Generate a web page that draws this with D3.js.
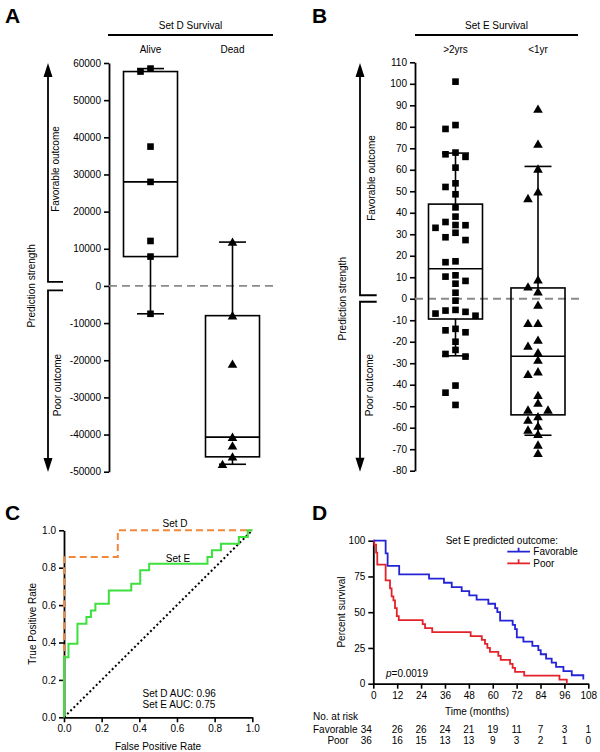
<!DOCTYPE html>
<html>
<head>
<meta charset="utf-8">
<script src="https://cdn.jsdelivr.net/npm/d3@7"></script>
<style>
  body { margin: 0; background: #fff; }
  svg { display: block; }
</style>
</head>
<body>
<script>
// ---------------- DATA ----------------
// Panel A: Set D survival, prediction strength
const setDGroups = ["Alive", "Dead"];
const setDAlive = [58500, 57700, 37500, 28000, 12100, 7900, -7500];
const setDDead = [11800, -8000, -21000, -40700, -43000, -46000, -48000];
const setDTicks = [-50000, -40000, -30000, -20000, -10000, 0, 10000, 20000, 30000, 40000, 50000, 60000];

// Panel B: Set E survival, prediction strength
const setEGroups = [">2yrs", "<1yr"];
const setEOver2 = [101, 80.8, 79, 68, 67.2, 66, 61, 53.7, 52, 48.6, 42.5, 38.2, 35.7, 34.3, 34.2, 33, 30.7, 28.6, 27.3,
  17.4, 17, 10.9, 10.3, 8.3, 7, 2.8, -0.9, -5.2, -5.5, -6.1, -6.9, -7.9, -14, -14.7, -15.6, -20, -23.8, -25.7, -26.9,
  -40.4, -43.7, -49.4];
const setEUnder1 = [88.3, 72, 60.4, 49.8, 46.7, 8.8, 5.6, 3.3, -2.9, -11.4, -11.4, -19.2, -22, -25, -28.5, -33.9, -35.1,
  -44.9, -48.5, -51.7, -51.7, -54.8, -56.4, -59.2, -61, -63, -68, -71.9];
const setETicks = [-80, -70, -60, -50, -40, -30, -20, -10, 0, 10, 20, 30, 40, 50, 60, 70, 80, 90, 100, 110];

// Panel C: ROC tick labels
const rocTicks = [0, 0.2, 0.4, 0.6, 0.8, 1.0];

// Panel D: Kaplan-Meier (months, percent survival)
const favTimes = [0, 6.2, 7.2, 13, 28, 35.5, 39.4, 44.4, 48.2, 51.9, 57.8, 61.2, 62.3, 63.7, 70.0, 71.2, 72.1, 75.4,
  79.9, 82.9, 84.1, 86.8, 89.6, 91.8, 95.5, 99.7, 105.5];
const favSurv = [100, 91.2, 82.4, 76.5, 73.5, 70.6, 67.6, 64.7, 61.8, 58.8, 55.9, 52.9, 50.0, 44.1, 41.2, 38.2, 32.4,
  29.4, 26.5, 23.5, 20.6, 17.6, 14.7, 11.8, 8.8, 5.9, 2.9];
const poorTimes = [0, 0.5, 1.4, 2.0, 6.2, 8.4, 9.2, 10.1, 10.9, 11.8, 12.8, 24.8, 26, 29.6, 48.9, 54.5, 56.1, 57.3,
  58.6, 62.8, 64.0, 68.7, 70.0, 71.2, 75.8, 93.5, 97.2];
const poorSurv = [100, 97.2, 91.7, 83.3, 72.2, 66.7, 61.1, 58.3, 52.8, 47.2, 44.4, 41.7, 38.9, 36.1, 33.3, 30.6, 27.8,
  25.0, 22.2, 19.4, 16.7, 13.9, 11.1, 8.3, 5.6, 2.8, 0];
const kmMonthTicks = [0, 12, 24, 36, 48, 60, 72, 84, 96, 108];
const kmSurvTicks = [0, 25, 50, 75, 100];
const riskFav = [34, 26, 26, 24, 21, 19, 11, 7, 3, 1];
const riskPoor = [36, 16, 15, 13, 13, 9, 3, 2, 1, 0];
const kmPValue = "0.0019";

// ---------------- SETUP ----------------
const FONT = "'Liberation Sans', Arial, Helvetica, sans-serif";
const svg = d3.select("body").append("svg")
  .attr("width", 600).attr("height", 752)
  .style("font-family", FONT);

const blue = "#2424d6", red = "#e4222a", green = "#3de03d", orange = "#f4883a";

function styleAxis(g) {
  g.selectAll(".domain").attr("stroke", "#000").attr("stroke-width", 1.8);
  g.selectAll(".tick line").attr("stroke", "#000").attr("stroke-width", 1.6);
  g.selectAll(".tick text").attr("font-size", 10).attr("font-family", FONT).attr("fill", "#000");
}

function panelLetter(t, x, y) {
  svg.append("text").attr("x", x).attr("y", y).attr("font-size", 21).attr("font-weight", "bold").text(t);
}

// GraphPad-style percentile ((n+1)p)
function pct(sorted, p) {
  const n = sorted.length;
  let pos = p * (n + 1);
  if (pos <= 1) return sorted[0];
  if (pos >= n) return sorted[n - 1];
  const lo = Math.floor(pos), f = pos - lo;
  return sorted[lo - 1] + f * (sorted[lo] - sorted[lo - 1]);
}

// dodge points horizontally
function dodge(values, y, minGap) {
  const order = [0, -1, 1, -2, 2, -3, 3];
  const placed = [];
  const sorted = values.map((v, i) => ({ v, i })).sort((a, b) => b.v - a.v);
  sorted.forEach(d => {
    const py = y(d.v);
    for (const s of order) {
      if (!placed.some(p => p.slot === s && Math.abs(p.py - py) < minGap)) {
        placed.push({ v: d.v, py, slot: s });
        break;
      }
    }
  });
  return placed;
}

function arrowPanel(x, yTop, yBracketTop, yBracketBot, yBot, bracketX) {
  const g = svg.append("g").attr("stroke", "#000").attr("stroke-width", 1.8).attr("fill", "none");
  g.append("path").attr("d", `M${bracketX},${yBracketTop}H${x}V${yTop + 12}`);
  g.append("path").attr("d", `M${bracketX},${yBracketBot}H${x}V${yBot - 12}`);
  svg.append("path").attr("d", `M${x},${yTop}L${x - 4.5},${yTop + 14}L${x + 4.5},${yTop + 14}Z`).attr("fill", "#000");
  svg.append("path").attr("d", `M${x},${yBot}L${x - 4.5},${yBot - 14}L${x + 4.5},${yBot - 14}Z`).attr("fill", "#000");
}

function vText(t, x, y) {
  svg.append("text").attr("transform", `translate(${x},${y}) rotate(-90)`)
    .attr("text-anchor", "middle").attr("dominant-baseline", "central").attr("font-size", 10).text(t);
}

function boxPanel(cfg) {
  const { groups, data, symbols, y, x, axisX, ticks, header, hx1, hx2, dashEnd } = cfg;
  // axis
  const ax = svg.append("g").attr("transform", `translate(${axisX},0)`)
    .call(d3.axisLeft(y).tickValues(ticks).tickFormat(d => String(d)).tickSize(5).tickSizeOuter(0));
  styleAxis(ax);
  // header
  svg.append("text").attr("x", (hx1 + hx2) / 2).attr("y", 25).attr("text-anchor", "middle")
    .attr("dominant-baseline", "central").attr("font-size", 10).text(header);
  svg.append("line").attr("x1", hx1).attr("x2", hx2).attr("y1", 35).attr("y2", 35)
    .attr("stroke", "#000").attr("stroke-width", 1.8);
  groups.forEach(gname => {
    svg.append("text").attr("x", x(gname)).attr("y", 49).attr("text-anchor", "middle")
      .attr("dominant-baseline", "central").attr("font-size", 10).text(gname);
  });
  // zero dashed line
  svg.append("line").attr("x1", axisX).attr("x2", dashEnd).attr("y1", y(0)).attr("y2", y(0))
    .attr("stroke", "#8a8a8a").attr("stroke-width", 1.8).attr("stroke-dasharray", "8,5");
  // boxes
  groups.forEach((gname, gi) => {
    const vals = data[gi].slice().sort((a, b) => a - b);
    const q1 = pct(vals, 0.25), med = pct(vals, 0.5), q3 = pct(vals, 0.75);
    const lo = pct(vals, 0.1), hi = pct(vals, 0.9);
    const cx = x(gname), bw = 54, cw = 27;
    const g = svg.append("g").attr("stroke", "#000").attr("stroke-width", 1.6).attr("fill", "none");
    g.append("line").attr("x1", cx).attr("x2", cx).attr("y1", y(q3)).attr("y2", y(hi));
    g.append("line").attr("x1", cx).attr("x2", cx).attr("y1", y(q1)).attr("y2", y(lo));
    g.append("line").attr("x1", cx - cw / 2).attr("x2", cx + cw / 2).attr("y1", y(hi)).attr("y2", y(hi));
    g.append("line").attr("x1", cx - cw / 2).attr("x2", cx + cw / 2).attr("y1", y(lo)).attr("y2", y(lo));
    g.append("rect").attr("x", cx - bw / 2).attr("width", bw).attr("y", y(q3)).attr("height", y(q1) - y(q3));
    g.append("line").attr("x1", cx - bw / 2).attr("x2", cx + bw / 2).attr("y1", y(med)).attr("y2", y(med));
    // points
    const pts = dodge(data[gi], y, 7.5);
    const sym = d3.symbol().type(symbols[gi]).size(symbols[gi] === d3.symbolSquare ? 44 : 40);
    svg.append("g").selectAll("path").data(pts).join("path")
      .attr("transform", d => `translate(${cx + d.slot * 10},${d.py + (symbols[gi] === d3.symbolTriangle ? 1 : 0)})`)
      .attr("d", sym).attr("fill", "#000");
  });
}

// ---------------- PANEL A ----------------
panelLetter("A", 5, 23);
const yA = d3.scaleLinear().domain([-50000, 60000]).range([471.7, 63]);
const xA = d3.scalePoint().domain(setDGroups).range([150.5, 232.5]);
boxPanel({
  groups: setDGroups, data: [setDAlive, setDDead], symbols: [d3.symbolSquare, d3.symbolTriangle],
  y: yA, x: xA, axisX: 109, ticks: setDTicks, header: "Set D Survival", hx1: 108, hx2: 273, dashEnd: 277
});
arrowPanel(48, 63, yA(0) - 4, yA(0) + 4.5, 472, 63);
vText("Favorable outcome", 55.5, 169);
vText("Poor outcome", 57, 385);
vText("Prediction strength", 31.5, yA(0));

// ---------------- PANEL B ----------------
panelLetter("B", 312, 23);
const yB = d3.scaleLinear().domain([-80, 110]).range([470.7, 62.3]);
const xB = d3.scalePoint().domain(setEGroups).range([455.5, 538]);
boxPanel({
  groups: setEGroups, data: [setEOver2, setEUnder1], symbols: [d3.symbolSquare, d3.symbolTriangle],
  y: yB, x: xB, axisX: 415, ticks: setETicks, header: "Set E Survival", hx1: 415, hx2: 578, dashEnd: 579
});
arrowPanel(360, 63, yB(0) - 3.5, yB(0) + 3, 471.7, 376.7);
vText("Favorable outcome", 371, 178);
vText("Poor outcome", 369, 385);
vText("Prediction strength", 342, yB(0));

// ---------------- PANEL C ----------------
panelLetter("C", 5, 520);
const xC = d3.scaleLinear().domain([0, 1]).range([64, 252.3]);
const yC = d3.scaleLinear().domain([0, 1]).range([717.3, 530.3]);
const axCy = svg.append("g").attr("transform", "translate(64,0)")
  .call(d3.axisLeft(yC).tickValues(rocTicks).tickFormat(d3.format(".1f")).tickSize(5).tickSizeOuter(0));
styleAxis(axCy);
const axCx = svg.append("g").attr("transform", "translate(0,717.3)")
  .call(d3.axisBottom(xC).tickValues(rocTicks).tickFormat(d3.format(".1f")).tickSize(5).tickSizeOuter(0));
styleAxis(axCx);

// ROC from the scores (lower score => poor outcome = positive)
function roc(neg, pos) {
  const all = neg.map(v => ({ v, p: false })).concat(pos.map(v => ({ v, p: true })))
    .sort((a, b) => a.v - b.v);
  let fp = 0, tp = 0;
  const pts = [[0, 0]];
  all.forEach(d => {
    if (d.p) tp++; else fp++;
    pts.push([fp / neg.length, tp / pos.length]);
  });
  let auc = 0;
  pos.forEach(p => { neg.forEach(n => { auc += n > p ? 1 : (n === p ? 0.5 : 0); }); });
  auc /= pos.length * neg.length;
  return { pts, auc };
}
const rocD = roc(setDAlive, setDDead);
const rocE = roc(setEOver2, setEUnder1);
const lineC = d3.line().x(d => xC(d[0])).y(d => yC(d[1]));

svg.append("path").attr("d", lineC([[0, 0], [1, 1]])).attr("fill", "none")
  .attr("stroke", "#000").attr("stroke-width", 2).attr("stroke-dasharray", "2,2.5");
svg.append("path").attr("d", lineC(rocD.pts)).attr("fill", "none")
  .attr("stroke", orange).attr("stroke-width", 2).attr("stroke-dasharray", "7,4");
svg.append("path").attr("d", lineC(rocE.pts)).attr("fill", "none")
  .attr("stroke", green).attr("stroke-width", 2);

svg.append("text").attr("x", 175).attr("y", 523).attr("text-anchor", "middle")
  .attr("dominant-baseline", "central").attr("font-size", 10).text("Set D");
svg.append("text").attr("x", 178).attr("y", 558).attr("text-anchor", "middle")
  .attr("dominant-baseline", "central").attr("font-size", 10).text("Set E");
const f2 = d3.format(".2f");
svg.append("text").attr("x", 142.5).attr("y", 693).attr("dominant-baseline", "central")
  .attr("font-size", 10).text("Set D AUC: " + f2(rocD.auc));
svg.append("text").attr("x", 142.5).attr("y", 704.5).attr("dominant-baseline", "central")
  .attr("font-size", 10).text("Set E AUC: " + f2(rocE.auc));
vText("True Positive Rate", 32, 623.8);
svg.append("text").attr("x", 158).attr("y", 746).attr("text-anchor", "middle")
  .attr("dominant-baseline", "central").attr("font-size", 10).text("False Positive Rate");

// ---------------- PANEL D ----------------
panelLetter("D", 312, 520);
const xD = d3.scaleLinear().domain([0, 108]).range([373.3, 588.3]);
const yD = d3.scaleLinear().domain([0, 100]).range([683.7, 540.7]);
const axDy = svg.append("g").attr("transform", "translate(373.3,0)")
  .call(d3.axisLeft(yD).tickValues(kmSurvTicks).tickSize(5).tickSizeOuter(0));
styleAxis(axDy);
const axDx = svg.append("g").attr("transform", "translate(0,683.7)")
  .call(d3.axisBottom(xD).tickValues(kmMonthTicks).tickSize(5).tickSizeOuter(0));
styleAxis(axDx);

const kmLine = d3.line().x(d => xD(d[0])).y(d => yD(d[1])).curve(d3.curveStepAfter);
svg.append("path").attr("d", kmLine(poorTimes.map((t, i) => [t, poorSurv[i]])))
  .attr("fill", "none").attr("stroke", red).attr("stroke-width", 1.8);
svg.append("path").attr("d", kmLine(favTimes.map((t, i) => [t, favSurv[i]])))
  .attr("fill", "none").attr("stroke", blue).attr("stroke-width", 1.8);

vText("Percent survival", 341.5, 612);
svg.append("text").attr("x", 477).attr("y", 711.5).attr("text-anchor", "middle")
  .attr("dominant-baseline", "central").attr("font-size", 10).text("Time (months)");
const pt = svg.append("text").attr("x", 386).attr("y", 673).attr("dominant-baseline", "central").attr("font-size", 10);
pt.append("tspan").attr("font-style", "italic").text("p");
pt.append("tspan").text("=" + kmPValue);

// legend
svg.append("text").attr("x", 445.7).attr("y", 540).attr("dominant-baseline", "central")
  .attr("font-size", 10).text("Set E predicted outcome:");
[["Favorable", blue, 551.7], ["Poor", red, 563.3]].forEach(([lab, col, ly]) => {
  svg.append("path").attr("d", `M507.3,${ly}H530M518.6,${ly}V${ly - 4}`).attr("stroke", col)
    .attr("stroke-width", 1.8).attr("fill", "none");
  svg.append("text").attr("x", 533.3).attr("y", ly).attr("dominant-baseline", "central")
    .attr("font-size", 10).text(lab);
});

// risk table
svg.append("text").attr("x", 313).attr("y", 716.7).attr("dominant-baseline", "central")
  .attr("font-size", 10).text("No. at risk");
svg.append("text").attr("x", 313).attr("y", 729).attr("dominant-baseline", "central")
  .attr("font-size", 10).text("Favorable");
svg.append("text").attr("x", 348.5).attr("y", 740.7).attr("text-anchor", "end").attr("dominant-baseline", "central")
  .attr("font-size", 10).text("Poor");
[[riskFav, 729], [riskPoor, 740.7]].forEach(([arr, ry]) => {
  svg.append("g").selectAll("text").data(arr).join("text")
    .attr("x", (d, i) => xD(kmMonthTicks[i]) - (i === 0 ? 7 : 0))
    .attr("y", ry).attr("text-anchor", "middle").attr("dominant-baseline", "central")
    .attr("font-size", 10).text(d => d);
});
</script>
</body>
</html>
